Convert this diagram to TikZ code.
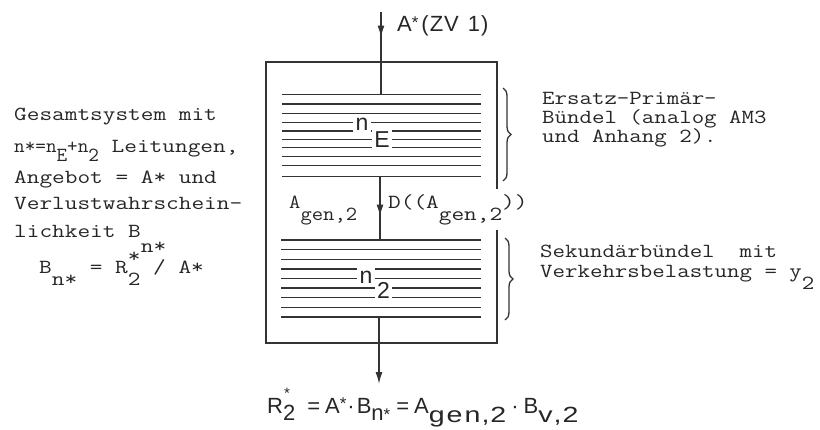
\documentclass[tikz,border=0pt]{standalone}
\usepackage{fontspec}
\setmainfont{Liberation Sans}
\newfontfamily\letfont{Liberation Sans}
\newfontfamily\letwide[FakeStretch=1.3]{Liberation Sans}
\usetikzlibrary{arrows.meta,decorations.pathreplacing,decorations.markings}
\newcommand\dn[2][0.6em]{\raisebox{-#1}{#2}}
\newcommand\tws[2][1.23]{\scalebox{#1}[1]{#2}}
\newcommand\lsub[2][9pt]{\raisebox{-#1}{#2}}
\newcommand\wsub[1]{\raisebox{-9pt}{\letwide #1}}
\tikzset{
  tw/.style={font=\ttfamily\fontsize{20}{20}\selectfont, inner sep=0pt, anchor=base west, text=black!85},
  lt/.style={font=\letfont\fontsize{22}{22}\selectfont, inner sep=0pt, text=black!85},
  nlab/.style={font=\letfont\fontsize{23}{23}\selectfont, fill=white, inner sep=2.5pt, text=black!85},
  wire/.style={line width=1.5pt, draw=black!80},
  bline/.style={line width=1.4pt, draw=black!80},
  brc/.style={line width=1.3pt, draw=black!80, decorate, decoration={brace, amplitude=8pt}},
  tip/.style={-{Latex[length=12pt,width=7pt]}},
  midarrow/.style={postaction={decorate}, decoration={markings, mark=at position #1 with {\arrow{Latex[length=12pt,width=7pt]}}}}
}
\begin{document}
\begin{tikzpicture}[x=1pt,y=-1pt]
\useasboundingbox (0,0) rectangle (820,429);
% outer box
\node[wire, draw, minimum width=231pt, minimum height=281pt, inner sep=0pt] (box) at (381.5,202.5) {};
% bundles
\foreach \y in {94.3,104,113.3,122.7,131,139.3,147.7,156.7,165.7,176.7}
  \draw[bline] (282,\y) -- (481,\y);
\foreach \y in {240,249.6,259.2,268.8,278.4,288,297.6,307.2,316.8}
  \draw[bline] (281,\y) -- (481,\y);
\coordinate (top) at (381,12);
\coordinate (b1top) at (381,94.3);
\coordinate (b1bot) at (380,176.7);
\coordinate (b2top) at (380,240);
\coordinate (b2bot) at (379,316.8);
\coordinate (out) at (379,384);
% bundle labels
\node[nlab] (nE) at (362,124) {n};
\node[nlab] (E) at (382,140) {E};
\node[nlab] (n2) at (366,277) {n};
\node[nlab] (two) at (383.5,290) {2};
% arrows
\draw[wire, midarrow=0.31] (top) -- (b1top);
\draw[wire, midarrow=0.63] (b1bot) -- (b2top);
\draw[wire, tip] (b2bot) -- (out);
% braces
\draw[brc] (503,88) -- (503,181) coordinate (br1);
\draw[brc] (505,238) -- (505,320) coordinate (br2);
% top label
\node[lt, anchor=base west] (ain) at (397,31) {A\raisebox{3pt}{\fontsize{17}{17}\selectfont*}\hspace{3pt}(\hspace{1pt}Z\hspace{1pt}V\hspace{9pt}1\hspace{1pt})};
% middle labels
\node[tw] (agen) at (289,208) {\tws[1.1]{A\dn{gen,2}}};
\node[tw, fill=white, inner ysep=5pt] (dlab) at (388,208) {\tws{D((A\dn{gen,2}))}};
% left text
\node[tw] (l1) at (14,120) {\tws{Gesamtsystem mit}};
\node[tw] (l2) at (14,152) {\tws[1.03]{n*=n\dn[0.45em]{E}+n\dn[0.45em]{2}}\tws{ Leitungen,}};
\node[tw] (l3) at (14,183) {\tws{Angebot = A* und}};
\node[tw] (l4) at (14,209) {\tws{Verlustwahrschein-}};
\node[tw] (l5) at (14,237) {\tws{lichkeit B\dn[0.75em]{n*}}};
\node[tw] (l6) at (39,273) {\tws{B\dn{n*} = R\rlap{\raisebox{0.55em}{*}}\dn{2} / A*}};
% right text
\node[tw] (r1) at (542,104) {\tws[1.21]{Ersatz-Primär-}};
\node[tw] (r2) at (542,123) {\tws[1.21]{Bündel (analog AM3}};
\node[tw] (r3) at (542,142) {\tws[1.21]{und Anhang 2).}};
\node[tw] (r4) at (540,257) {\tws[1.21]{Sekundärbündel~~mit}};
\node[tw] (r5) at (540,277) {\tws[1.21]{Verkehrsbelastung = y\dn{2}}};
% bottom formula
\node[lt, anchor=base west] (res) at (267,413) {R\rlap{\hspace{1pt}\raisebox{15pt}{\fontsize{15}{15}\selectfont*}}\lsub[7pt]{2}\hspace{12pt}=\hspace{5pt}A\raisebox{4pt}{\fontsize{17}{17}\selectfont*}\hspace{1pt}·\hspace{2pt}B\lsub[7pt]{n\fontsize{17}{17}\selectfont*}\hspace{6pt}=\hspace{5pt}A\wsub{g\hspace{2pt}e\hspace{2pt}n\hspace{1pt},\hspace{1pt}2}\hspace{5pt}·\hspace{5pt}B\wsub{v\hspace{1pt},\hspace{1pt}2}};
\end{tikzpicture}
\end{document}
